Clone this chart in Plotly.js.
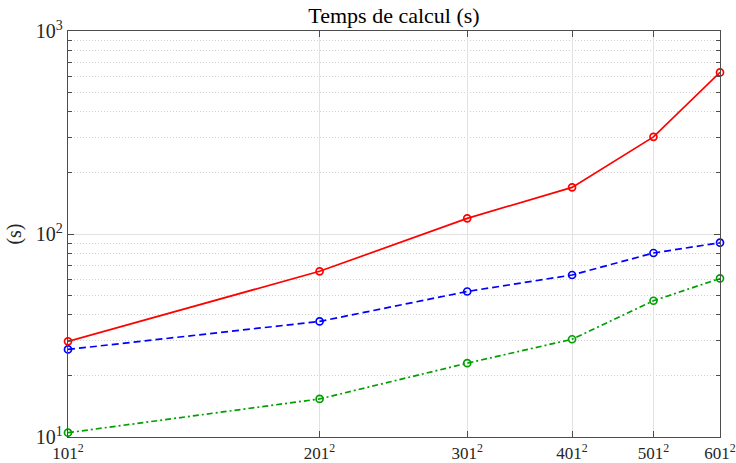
<!DOCTYPE html>
<html>
<head>
<meta charset="utf-8">
<script src="https://cdn.plot.ly/plotly-3.0.1.min.js"></script>
<style>html,body{margin:0;padding:0;background:#fff;}#chart{width:736px;height:463px;}</style>
</head>
<body>
<div id="chart"></div>
<script>
const gridSizes = [101, 201, 301, 401, 501, 601];
const tickLabels = ["101<sup>2</sup>", "201<sup>2</sup>", "301<sup>2</sup>", "401<sup>2</sup>", "501<sup>2</sup>", "601<sup>2</sup>"];
const redTimes = [29.6, 65.5, 119.4, 169.7, 301, 625];
const blueTimes = [27.0, 37.1, 52.1, 62.8, 80.6, 90.6];
const greenTimes = [10.5, 15.4, 23.1, 30.3, 46.9, 60.4];
const yTickVals = [10, 100, 1000];
const yTickText = ["10<sup>1</sup>", "10<sup>2</sup>", "10<sup>3</sup>"];
const yMinorVals = [20, 30, 40, 50, 60, 70, 80, 90, 200, 300, 400, 500, 600, 700, 800, 900];

const xVals = gridSizes.map(n => n * n);
const font = "Liberation Serif, Times New Roman, serif";

function series(y, color, dash) {
  return {
    x: xVals, y: y, type: 'scatter', mode: 'lines+markers',
    line: {color: color, width: 1.7, dash: dash},
    marker: {symbol: 'circle-open', size: 7, color: color, line: {width: 1.7, color: color}},
    showlegend: false, cliponaxis: false
  };
}

const data = [
  series(redTimes, '#ff0000', 'solid'),
  series(blueTimes, '#0000ff', '7px,4px'),
  series(greenTimes, '#00a000', '6px,3px,2px,3px')
];

const axisCommon = {
  showline: true, linecolor: '#4d4d4d', linewidth: 1.3, mirror: 'allticks',
  ticks: 'inside', ticklen: 6, tickwidth: 1, tickcolor: '#4d4d4d',
  showgrid: true, gridcolor: '#e2e2e2', gridwidth: 1, zeroline: false,
  tickfont: {family: font, size: 20, color: '#262626'}
};

const layout = {
  width: 736, height: 463,
  margin: {l: 67.5, r: 15.7, t: 31, b: 25.7},
  paper_bgcolor: '#ffffff', plot_bgcolor: '#ffffff',
  title: {text: 'Temps de calcul (s)', font: {family: font, size: 22, color: '#000'}, xref: 'paper', x: 0.5, xanchor: 'center', yref: 'container', y: 0.968, yanchor: 'middle'},
  xaxis: Object.assign({}, axisCommon, {
    type: 'log',
    range: [Math.log10(xVals[0]), Math.log10(xVals[xVals.length - 1])],
    tickmode: 'array', tickvals: xVals, ticktext: tickLabels,
    ticklabeloverflow: 'allow', tickfont: {family: font, size: 17, color: '#262626'}
  }),
  yaxis: Object.assign({}, axisCommon, {
    type: 'log', range: [1, 3],
    tickmode: 'array', tickvals: yTickVals, ticktext: yTickText,
    ticklabeloverflow: 'allow',
    title: {text: '(s)', font: {family: font, size: 20, color: '#262626'}, standoff: 8},
    minor: {ticks: 'inside', ticklen: 4, tickcolor: '#4d4d4d', showgrid: true, gridcolor: '#d0d0d0', griddash: '1px,2px', gridwidth: 1,
            tickvals: yMinorVals}
  })
};

Plotly.newPlot('chart', data, layout, {staticPlot: true, displayModeBar: false});
</script>
</body>
</html>
